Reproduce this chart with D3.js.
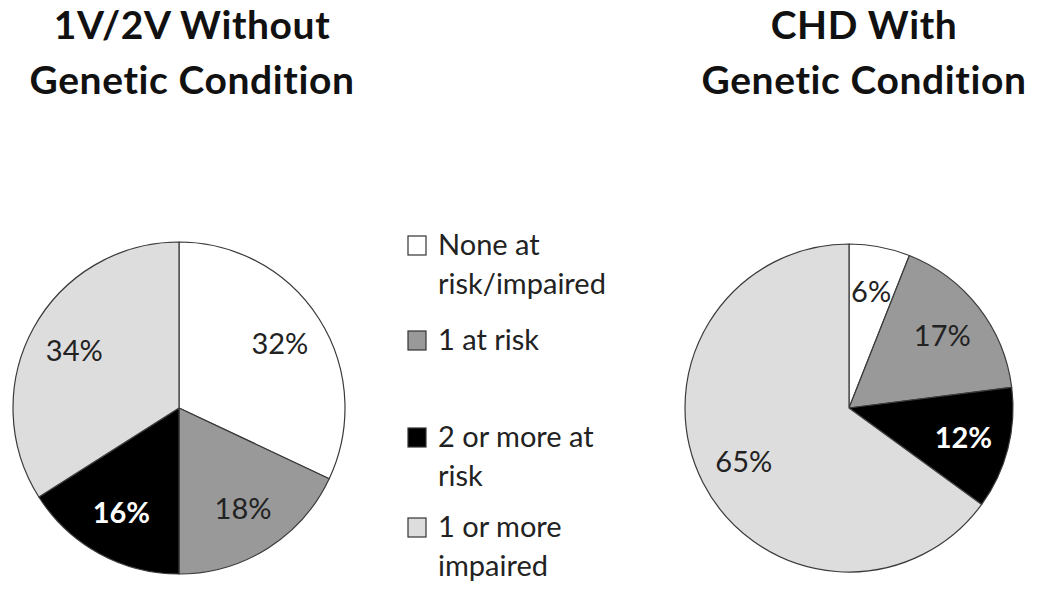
<!DOCTYPE html>
<html>
<head>
<meta charset="utf-8">
<script src="https://cdn.jsdelivr.net/npm/d3@7"></script>
<style>
  html, body { margin: 0; padding: 0; background: #fff; }
  svg text { font-family: Lato, "Open Sans", sans-serif; }
</style>
</head>
<body>
<svg id="chart" width="1050" height="591"></svg>
<script>
// ---- data ----
const categories = ["None at risk/impaired", "1 at risk", "2 or more at risk", "1 or more impaired"];
const legendLines = [["None at", "risk/impaired"], ["1 at risk"], ["2 or more at", "risk"], ["1 or more", "impaired"]];
const chartTitles = [["1V/2V Without", "Genetic Condition"], ["CHD With", "Genetic Condition"]];
const valuesWithout = [32, 18, 16, 34];
const valuesWith = [6, 17, 12, 65];

const fills = ["#ffffff", "#999999", "#000000", "#dddddd"];
const labelColors = ["#222", "#222", "#fff", "#222"];
const labelWeights = ["normal", "normal", "bold", "normal"];

const svg = d3.select("#chart");
const color = d3.scaleOrdinal().domain(categories).range(fills);

const pie = d3.pie().sort(null).value(d => d.value);

function drawPie(values, cx, cy, r, title, titleCx) {
  const g = svg.append("g").attr("transform", `translate(${cx},${cy})`);
  const data = categories.map((c, i) => ({ cat: c, value: values[i], i }));
  const arcs = pie(data);
  const arc = d3.arc().innerRadius(0).outerRadius(r);
  const labelArc = d3.arc().innerRadius(r * 0.72).outerRadius(r * 0.72);
  g.selectAll("path").data(arcs).join("path")
    .attr("d", arc)
    .attr("fill", d => color(d.data.cat))
    .attr("stroke", "#3a3a3a")
    .attr("stroke-width", 1.2)
    .attr("stroke-linejoin", "round");
  g.selectAll("text.lbl").data(arcs).join("text")
    .attr("class", "lbl")
    .attr("transform", d => `translate(${labelArc.centroid(d)})`)
    .attr("text-anchor", "middle")
    .attr("dy", "0.36em")
    .attr("font-size", 29)
    .attr("font-weight", d => labelWeights[d.data.i])
    .attr("fill", d => labelColors[d.data.i])
    .text(d => d.data.value + "%");

  const t = svg.append("text")
    .attr("text-anchor", "middle")
    .attr("font-size", 39)
    .attr("font-weight", "bold")
    .attr("letter-spacing", 0.6)
    .attr("fill", "#111");
  title.forEach((line, k) => {
    t.append("tspan").attr("x", titleCx).attr("y", 39 + k * 55).text(line);
  });
}

drawPie(valuesWithout, 179, 408, 166, chartTitles[0], 192);
drawPie(valuesWith, 849, 408, 164, chartTitles[1], 864);

// ---- legend ----
const legendTops = [236, 331, 428, 518];
const legend = svg.append("g");
categories.forEach((c, i) => {
  legend.append("rect")
    .attr("x", 408).attr("y", legendTops[i])
    .attr("width", 18).attr("height", 19)
    .attr("fill", color(c))
    .attr("stroke", "#333").attr("stroke-width", 1.2);
  const t = legend.append("text").attr("font-size", 29).attr("fill", "#222");
  legendLines[i].forEach((line, k) => {
    t.append("tspan").attr("x", 438).attr("y", legendTops[i] + 19 + k * 39).text(line);
  });
});
</script>
</body>
</html>
